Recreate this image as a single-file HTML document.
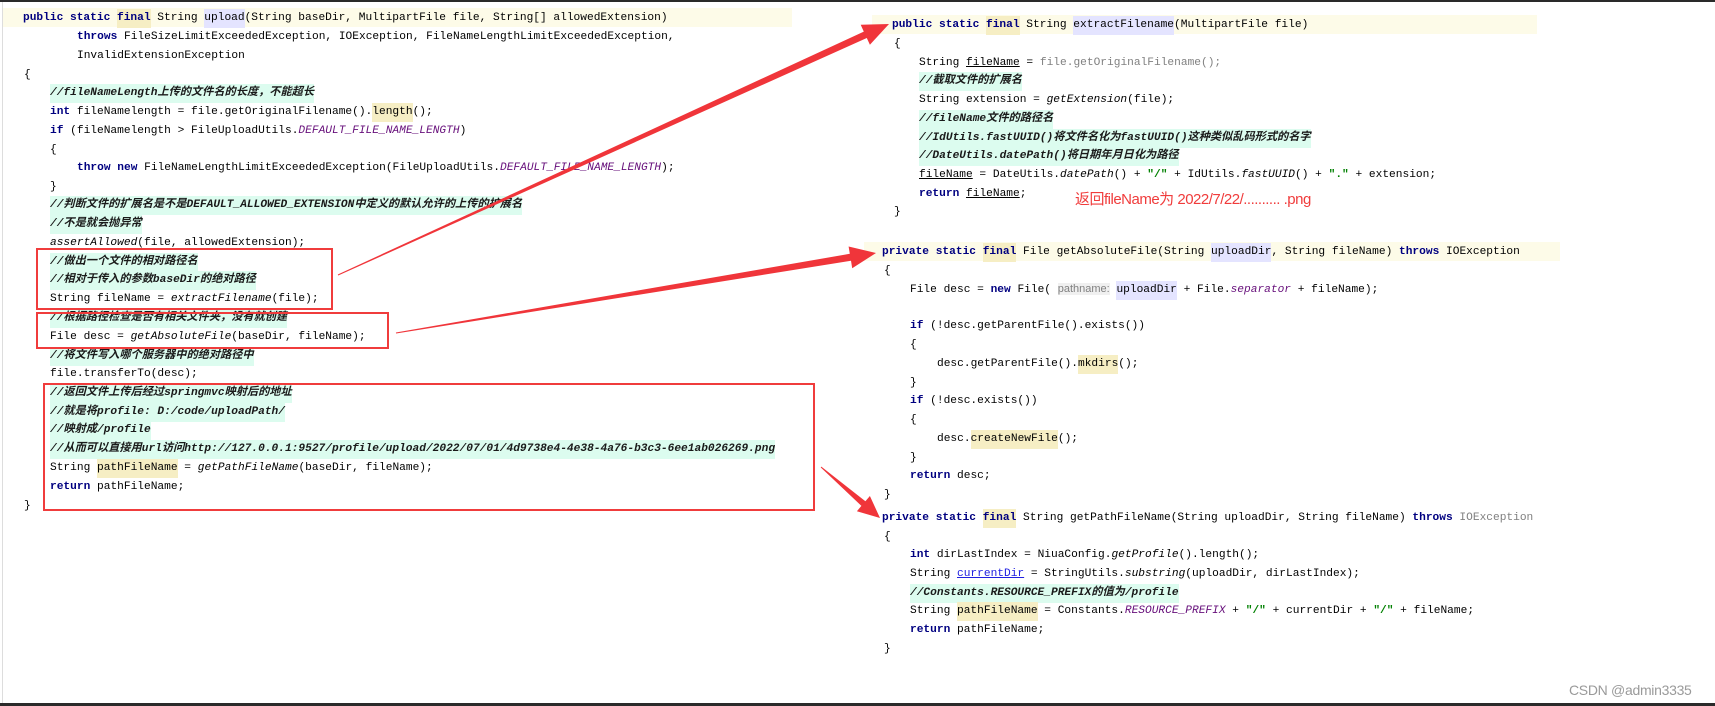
<!DOCTYPE html>
<html><head><meta charset="utf-8">
<style>
html,body{margin:0;padding:0;}
body{width:1715px;height:706px;position:relative;overflow:hidden;background:#fff;font-family:"Liberation Mono","Noto Sans CJK SC",monospace;font-size:11.2px;color:#000;}
.l{position:absolute;height:18px;line-height:18px;white-space:pre;}
.k{color:#000080;font-weight:bold;}
.c{font-style:italic;font-weight:bold;background:#dcfcef;color:#1a1a1a;display:inline-block;height:19px;line-height:19px;}
.p{color:#660e7a;font-style:italic;}
.s{color:#008000;font-weight:bold;}
.i{font-style:italic;}
.g{color:#808080;}
.y{background:#f6eec4;display:inline-block;height:19px;line-height:19px;}
.v{background:#e4e4ff;display:inline-block;height:19px;line-height:19px;}
.bg{position:absolute;background:#fdfbe8;}
.box{position:absolute;border:2.5px solid #f03c3c;box-sizing:border-box;}
</style></head><body>
<div style="position:absolute;left:0;top:0;width:1715px;height:2px;background:#2a2a2a"></div>
<div style="position:absolute;left:0;top:703px;width:1715px;height:3px;background:#2a2a2a"></div>
<div style="position:absolute;left:2px;top:2px;width:1px;height:701px;background:#ddd"></div>

<div class="bg" style="left:3px;top:8px;width:789px;height:19px"></div>
<div class="bg" style="left:872px;top:15px;width:665px;height:19px"></div>
<div class="bg" style="left:864px;top:242px;width:696px;height:19px"></div>

<!-- left -->
<div class="l" style="left:23px;top:9px"><span class="k">public static </span><span class="k y">final</span> String <span class="v">upload</span>(String baseDir, MultipartFile file, String[] allowedExtension)</div>
<div class="l" style="left:77px;top:28px"><span class="k">throws</span> FileSizeLimitExceededException, IOException, FileNameLengthLimitExceededException,</div>
<div class="l" style="left:77px;top:47px">InvalidExtensionException</div>
<div class="l" style="left:24px;top:66px">{</div>
<div class="l" style="left:50px;top:84px"><span class="c">//fileNameLength上传的文件名的长度，不能超长</span></div>
<div class="l" style="left:50px;top:103px"><span class="k">int</span> fileNamelength = file.getOriginalFilename().<span class="y">length</span>();</div>
<div class="l" style="left:50px;top:122px"><span class="k">if</span> (fileNamelength &gt; FileUploadUtils.<span class="p">DEFAULT_FILE_NAME_LENGTH</span>)</div>
<div class="l" style="left:50px;top:141px">{</div>
<div class="l" style="left:77px;top:159px"><span class="k">throw new</span> FileNameLengthLimitExceededException(FileUploadUtils.<span class="p">DEFAULT_FILE_NAME_LENGTH</span>);</div>
<div class="l" style="left:50px;top:178px">}</div>
<div class="l" style="left:50px;top:196px"><span class="c">//判断文件的扩展名是不是DEFAULT_ALLOWED_EXTENSION中定义的默认允许的上传的扩展名</span></div>
<div class="l" style="left:50px;top:215px"><span class="c">//不是就会抛异常</span></div>
<div class="l" style="left:50px;top:234px"><span class="i">assertAllowed</span>(file, allowedExtension);</div>
<div class="l" style="left:50px;top:253px"><span class="c">//做出一个文件的相对路径名</span></div>
<div class="l" style="left:50px;top:271px"><span class="c">//相对于传入的参数baseDir的绝对路径</span></div>
<div class="l" style="left:50px;top:290px">String fileName = <span class="i">extractFilename</span>(file);</div>
<div class="l" style="left:50px;top:309px"><span class="c">//根据路径检查是否有相关文件夹，没有就创建</span></div>
<div class="l" style="left:50px;top:328px">File desc = <span class="i">getAbsoluteFile</span>(baseDir, fileName);</div>
<div class="l" style="left:50px;top:347px"><span class="c">//将文件写入哪个服务器中的绝对路径中</span></div>
<div class="l" style="left:50px;top:365px">file.transferTo(desc);</div>
<div class="l" style="left:50px;top:384px"><span class="c">//返回文件上传后经过springmvc映射后的地址</span></div>
<div class="l" style="left:50px;top:403px"><span class="c">//就是将profile: D:/code/uploadPath/</span></div>
<div class="l" style="left:50px;top:421px"><span class="c">//映射成/profile</span></div>
<div class="l" style="left:50px;top:440px"><span class="c">//从而可以直接用url访问http://127.0.0.1:9527/profile/upload/2022/07/01/4d9738e4-4e38-4a76-b3c3-6ee1ab026269.png</span></div>
<div class="l" style="left:50px;top:459px">String <span class="y">pathFileName</span> = <span class="i">getPathFileName</span>(baseDir, fileName);</div>
<div class="l" style="left:50px;top:478px"><span class="k">return</span> pathFileName;</div>
<div class="l" style="left:24px;top:497px">}</div>

<div class="box" style="left:36px;top:248px;width:297px;height:62px"></div>
<div class="box" style="left:36px;top:312px;width:353px;height:37px"></div>
<div class="box" style="left:43px;top:383px;width:772px;height:128px"></div>

<!-- right -->
<div class="l" style="left:892px;top:16px"><span class="k">public static </span><span class="k y">final</span> String <span class="v">extractFilename</span>(MultipartFile file)</div>
<div class="l" style="left:894px;top:35px">{</div>
<div class="l" style="left:919px;top:54px">String <u>fileName</u> = <span class="g">file.getOriginalFilename();</span></div>
<div class="l" style="left:919px;top:72px"><span class="c">//截取文件的扩展名</span></div>
<div class="l" style="left:919px;top:91px">String extension = <span class="i">getExtension</span>(file);</div>
<div class="l" style="left:919px;top:110px"><span class="c">//fileName文件的路径名</span></div>
<div class="l" style="left:919px;top:129px"><span class="c">//IdUtils.fastUUID()将文件名化为fastUUID()这种类似乱码形式的名字</span></div>
<div class="l" style="left:919px;top:147px"><span class="c">//DateUtils.datePath()将日期年月日化为路径</span></div>
<div class="l" style="left:919px;top:166px"><u>fileName</u> = DateUtils.<span class="i">datePath</span>() + <span class="s">"/"</span> + IdUtils.<span class="i">fastUUID</span>() + <span class="s">"."</span> + extension;</div>
<div class="l" style="left:919px;top:185px"><span class="k">return</span> <u>fileName</u>;</div>
<div style="position:absolute;left:1075px;top:188px;font-family:'Liberation Sans','Noto Sans CJK SC',sans-serif;font-size:15px;color:#f03c3c;white-space:pre;letter-spacing:-0.5px">返回fileName为 2022/7/22/.......... .png</div>
<div class="l" style="left:894px;top:203px">}</div>

<div class="l" style="left:882px;top:243px"><span class="k">private static </span><span class="k y">final</span> File getAbsoluteFile(String <span class="v">uploadDir</span>, String fileName) <span class="k">throws</span> IOException</div>
<div class="l" style="left:884px;top:262px">{</div>
<div class="l" style="left:910px;top:280px">File desc = <span class="k">new</span> File( <span class="g" style="background:#f0f0f0;font-family:'Liberation Sans',sans-serif;font-size:11px">pathname:</span> <span class="v">uploadDir</span> + File.<span class="p">separator</span> + fileName);</div>
<div class="l" style="left:910px;top:317px"><span class="k">if</span> (!desc.getParentFile().exists())</div>
<div class="l" style="left:910px;top:336px">{</div>
<div class="l" style="left:937px;top:355px">desc.getParentFile().<span class="y">mkdirs</span>();</div>
<div class="l" style="left:910px;top:374px">}</div>
<div class="l" style="left:910px;top:392px"><span class="k">if</span> (!desc.exists())</div>
<div class="l" style="left:910px;top:411px">{</div>
<div class="l" style="left:937px;top:430px">desc.<span class="y">createNewFile</span>();</div>
<div class="l" style="left:910px;top:449px">}</div>
<div class="l" style="left:910px;top:467px"><span class="k">return</span> desc;</div>
<div class="l" style="left:884px;top:486px">}</div>
<div class="l" style="left:882px;top:509px"><span class="k">private static </span><span class="k y">final</span> String getPathFileName(String uploadDir, String fileName) <span class="k">throws</span> <span class="g">IOException</span></div>
<div class="l" style="left:884px;top:528px">{</div>
<div class="l" style="left:910px;top:546px"><span class="k">int</span> dirLastIndex = NiuaConfig.<span class="i">getProfile</span>().length();</div>
<div class="l" style="left:910px;top:565px">String <u style="color:#2020e0">currentDir</u> = StringUtils.<span class="i">substring</span>(uploadDir, dirLastIndex);</div>
<div class="l" style="left:910px;top:584px"><span class="c">//Constants.RESOURCE_PREFIX的值为/profile</span></div>
<div class="l" style="left:910px;top:602px">String <span class="y">pathFileName</span> = Constants.<span class="p">RESOURCE_PREFIX</span> + <span class="s">"/"</span> + currentDir + <span class="s">"/"</span> + fileName;</div>
<div class="l" style="left:910px;top:621px"><span class="k">return</span> pathFileName;</div>
<div class="l" style="left:884px;top:640px">}</div>

<div style="position:absolute;left:1569px;top:682px;font-family:'Liberation Sans',sans-serif;font-size:14px;color:#9a9a9a;letter-spacing:-0.3px">CSDN @admin3335</div>

<svg width="1715" height="706" style="position:absolute;left:0;top:0" xmlns="http://www.w3.org/2000/svg">
<g fill="#f0353a">
<polygon points="338.2,275.5 866.8,38.0 869.9,44.8 889,24 860.7,24.8 863.8,31.6 337.8,274.5"/>
<polygon points="396.1,333.5 851.0,260.8 852.2,268.2 876,253 848.6,246.5 849.8,253.8 395.9,332.5"/>
<polygon points="820.7,467.4 861.4,505.9 856.9,511.2 880,518 869.9,496.0 865.4,501.3 821.3,466.6"/>
</g>
</svg>
</body></html>
